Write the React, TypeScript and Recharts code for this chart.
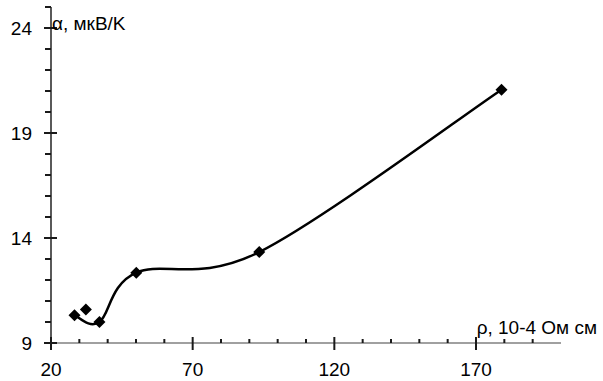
import { ComposedChart, Line, Scatter, XAxis, YAxis } from 'recharts';

// resistivity, 10^-4 Ohm cm
const rho = [28.3, 32.3, 37.1, 50.1, 93.5, 179];
// thermopower, uV/K
const alpha = [10.32, 10.59, 10.0, 12.35, 13.33, 21.06];
// the smoothed curve skips the second sample
const curveIdx = [0, 2, 3, 4, 5];

const xTicks = [20, 30, 40, 50, 60, 70, 80, 90, 100, 110, 120, 130, 140, 150, 160, 170, 180, 190];
const xMajor = [20, 70, 120, 170];
const yTicks = [9, 10, 11, 12, 13, 14, 15, 16, 17, 18, 19, 20, 21, 22, 23, 24, 25];
const yMajor = [9, 14, 19, 24];

const xTitle = 'ρ, 10-4 Ом см';
const yTitle = 'α, мкВ/K';

const points = rho.map((x, i) => ({ x, y: alpha[i] }));
const curve = curveIdx.map((i) => ({ x: rho[i], y: alpha[i] }));

const FONT = '"Liberation Sans", Arial, sans-serif';

// spreadsheet-style smoothing (Catmull-Rom bezier, tension 1/6)
function smoothCurve(context: any) {
  let pts: number[][] = [];
  return {
    areaStart() {},
    areaEnd() {},
    lineStart() {
      pts = [];
    },
    lineEnd() {
      const n = pts.length;
      if (!n) return;
      context.moveTo(pts[0][0], pts[0][1]);
      for (let i = 0; i < n - 1; i++) {
        const p0 = pts[Math.max(i - 1, 0)];
        const p1 = pts[i];
        const p2 = pts[i + 1];
        const p3 = pts[Math.min(i + 2, n - 1)];
        context.bezierCurveTo(
          p1[0] + (p2[0] - p0[0]) / 6,
          p1[1] + (p2[1] - p0[1]) / 6,
          p2[0] - (p3[0] - p1[0]) / 6,
          p2[1] - (p3[1] - p1[1]) / 6,
          p2[0],
          p2[1]
        );
      }
    },
    point(x: number, y: number) {
      pts.push([+x, +y]);
    },
  };
}

function XTick(props: any) {
  const x = Number(props.x);
  const y = Number(props.y);
  const v = props.payload.value;
  const major = xMajor.includes(v);
  return (
    <g>
      <line x1={x} x2={x} y1={major ? y - 6 : y - 4} y2={major ? y + 7 : y} stroke="#1a1a1a" strokeWidth={2} />
      {major && (
        <text x={x} y={y + 33} textAnchor="middle" fontSize={19} fontFamily={FONT} fill="#000">
          {v}
        </text>
      )}
    </g>
  );
}

function YTick(props: any) {
  const x = Number(props.x);
  const y = Number(props.y);
  const v = props.payload.value;
  const major = yMajor.includes(v);
  return (
    <g>
      <line x1={major ? x - 7 : x - 6} x2={major ? x + 6 : x} y1={y} y2={y} stroke="#1a1a1a" strokeWidth={2} />
      {major && (
        <text x={x - 19} y={y + 7} textAnchor="end" fontSize={19} fontFamily={FONT} fill="#000">
          {v}
        </text>
      )}
    </g>
  );
}

function Diamond({ cx, cy }: any) {
  const r = 6;
  return (
    <polygon
      points={`${cx},${cy - r} ${cx + r},${cy} ${cx},${cy + r} ${cx - r},${cy}`}
      fill="#000"
    />
  );
}

export default function App() {
  return (
    <div style={{ position: 'absolute', left: 0, top: 0, width: 603, height: 381, background: '#fff' }}>
      <ComposedChart width={603} height={381} margin={{ top: 7, right: 42, left: 0, bottom: 0 }}>
        <XAxis
          type="number"
          dataKey="x"
          domain={[20, 200]}
          ticks={xTicks}
          interval={0}
          height={38}
          tickSize={0}
          tickMargin={0}
          tickLine={false}
          axisLine={{ stroke: '#808080', strokeWidth: 1.5 }}
          tick={(p: any) => <XTick {...p} />}
        />
        <YAxis
          type="number"
          dataKey="y"
          domain={[9, 25]}
          ticks={yTicks}
          interval={0}
          width={51}
          tickSize={0}
          tickMargin={0}
          tickLine={false}
          axisLine={{ stroke: '#000', strokeWidth: 1.3 }}
          tick={(p: any) => <YTick {...p} />}
        />
        <Line
          data={curve}
          dataKey="y"
          type={smoothCurve as any}
          stroke="#000"
          strokeWidth={2.5}
          dot={false}
          activeDot={false}
          isAnimationActive={false}
        />
        <Scatter data={points} dataKey="y" fill="#000" shape={<Diamond />} isAnimationActive={false} />
      </ComposedChart>
      <svg
        width={603}
        height={381}
        style={{ position: 'absolute', left: 0, top: 0, pointerEvents: 'none' }}
      >
        <text x={52} y={30} fontSize={19} fontFamily={FONT} fill="#000">
          {yTitle}
        </text>
        <text x={597} y={334} textAnchor="end" fontSize={19} fontFamily={FONT} fill="#000">
          {xTitle}
        </text>
      </svg>
    </div>
  );
}
